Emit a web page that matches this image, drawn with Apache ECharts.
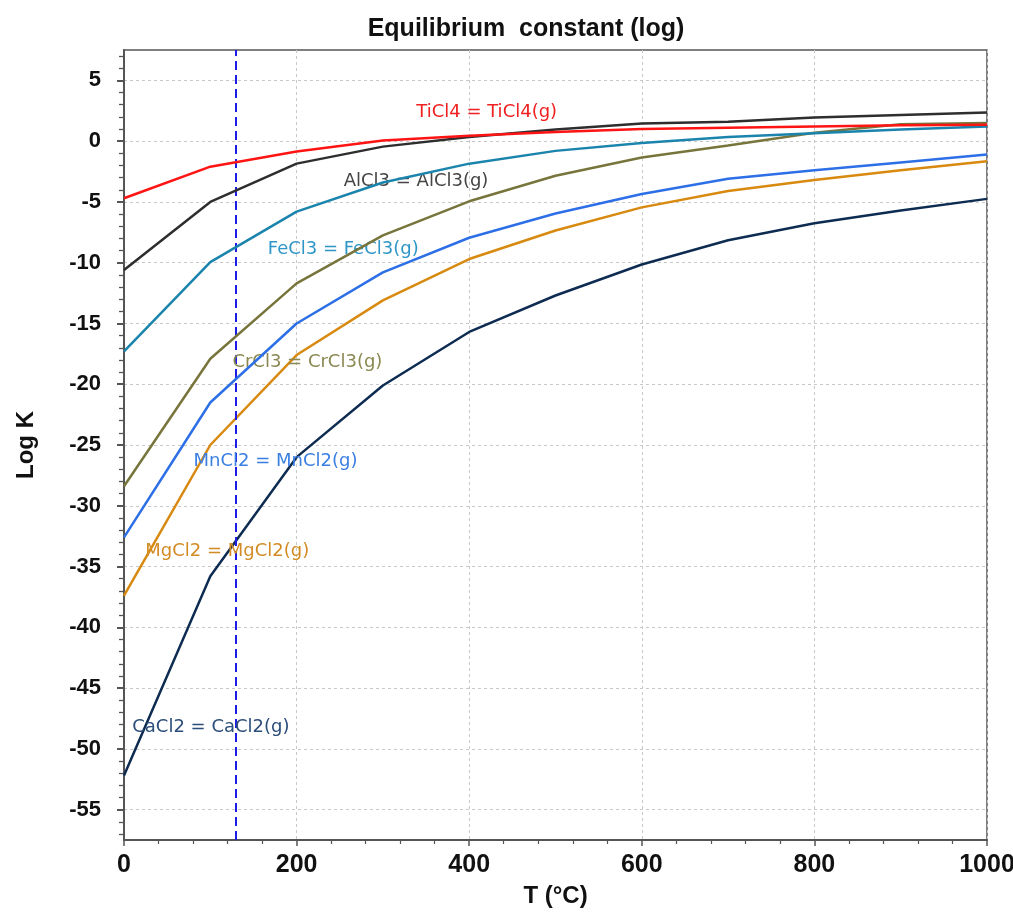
<!DOCTYPE html>
<html><head><meta charset="utf-8">
<script src="https://cdn.jsdelivr.net/npm/echarts@6/dist/echarts.min.js"></script>
<style>html,body{margin:0;padding:0;background:#fff}#c{width:1013px;height:913px}</style>
</head><body><div id="c"></div>
<script>
// ---- data ----
const temperatures = [0, 100, 200, 300, 400, 500, 600, 700, 800, 900, 1000];
const ticl4 = [-4.7, -2.1, -0.85, 0.05, 0.45, 0.75, 1.0, 1.1, 1.2, 1.3, 1.35];
const alcl3 = [-10.6, -5.0, -1.85, -0.45, 0.35, 0.95, 1.45, 1.6, 1.95, 2.15, 2.35];
const fecl3 = [-17.3, -9.95, -5.8, -3.4, -1.85, -0.8, -0.15, 0.35, 0.65, 0.95, 1.2];
const crcl3 = [-28.4, -17.9, -11.7, -7.75, -4.95, -2.85, -1.35, -0.35, 0.7, 1.4, 1.5];
const mncl2 = [-32.6, -21.5, -15.0, -10.8, -7.95, -5.95, -4.35, -3.1, -2.4, -1.75, -1.1];
const mgcl2 = [-37.4, -25.0, -17.6, -13.1, -9.7, -7.35, -5.45, -4.1, -3.2, -2.4, -1.65];
const cacl2 = [-52.2, -35.8, -26.0, -20.1, -15.7, -12.7, -10.15, -8.15, -6.75, -5.7, -4.75];
const reactionNames = ['TiCl4 = TiCl4(g)', 'AlCl3 = AlCl3(g)', 'FeCl3 = FeCl3(g)', 'CrCl3 = CrCl3(g)',
  'MnCl2 = MnCl2(g)', 'MgCl2 = MgCl2(g)', 'CaCl2 = CaCl2(g)'];
const xTickLabels = [0, 200, 400, 600, 800, 1000];
const yTickLabels = [5, 0, -5, -10, -15, -20, -25, -30, -35, -40, -45, -50, -55];
const markerTemperature = 130;

// ---- layout / styles ----
const Y_MIN = -57.5, Y_MAX = 7.5;
const ySteps = [];
for (let k = 0; k <= (Y_MAX - Y_MIN) * 2; k++) ySteps.push(String(Y_MIN + k * 0.5));
const isMajorY = (i, v) => yTickLabels.indexOf(Number(v)) >= 0;
const isMinorY = (i, v) => Number(v) % 1 === 0 && !isMajorY(i, v);

const seriesDefs = [
  { vals: cacl2, color: '#0e2c52', lab: '#2b4d7a', at: [9, -48.2] },
  { vals: mgcl2, color: '#d8890f', lab: '#d38c25', at: [24, -33.75] },
  { vals: mncl2, color: '#2d6fe6', lab: '#3b7fe2', at: [80, -26.35] },
  { vals: crcl3, color: '#77753c', lab: '#8a8852', at: [125, -18.2] },
  { vals: fecl3, color: '#1b84ad', lab: '#3096c8', at: [166, -8.9] },
  { vals: alcl3, color: '#2e2e2e', lab: '#454545', at: [254, -3.3] },
  { vals: ticl4, color: '#ff1414', lab: '#f02020', at: [338, 2.35] }
];
const nameIdx = [6, 5, 4, 3, 2, 1, 0];

const series = seriesDefs.map((d, k) => ({
  type: 'line',
  name: reactionNames[nameIdx[k]],
  data: temperatures.map((t, i) => [t, d.vals[i]]),
  showSymbol: false, symbol: 'none',
  lineStyle: { color: d.color, width: 2.5 },
  itemStyle: { color: d.color },
  z: 3 + k,
  markPoint: {
    silent: true, symbol: 'circle', symbolSize: 1,
    itemStyle: { color: 'rgba(0,0,0,0)' },
    label: {
      show: true, position: 'right', distance: 0,
      formatter: reactionNames[nameIdx[k]],
      color: d.lab, fontSize: 18, fontFamily: 'DejaVu Sans'
    },
    data: [{ coord: d.at }]
  }
}));
series[0].markLine = {
  silent: true, symbol: ['none', 'none'],
  label: { show: false },
  lineStyle: { color: '#1c1ce6', type: [9, 5], width: 2 },
  data: [{ xAxis: markerTemperature }]
};

const boldFont = { fontFamily: 'Liberation Sans, Arial, sans-serif', fontWeight: 'bold', color: '#111' };

const option = {
  animation: false,
  backgroundColor: '#fff',
  grid: { left: 124, right: 26, top: 50, bottom: 73, show: true, borderColor: '#555', borderWidth: 1.5,
          containLabel: false, outerBoundsMode: 'none' },
  graphic: [{
    type: 'text', x: 526, y: 29,
    style: { text: 'Equilibrium  constant (log)', fontSize: 25, textAlign: 'center',
      textVerticalAlign: 'middle', fill: '#111', fontFamily: boldFont.fontFamily, fontWeight: 'bold' }
  }],
  xAxis: {
    type: 'value', min: 0, max: 1000, interval: 200,
    axisLine: { show: true, onZero: false, lineStyle: { color: '#555', width: 2 } },
    axisTick: { show: true, length: 6, lineStyle: { color: '#555', width: 1.5 } },
    minorTick: { show: true, splitNumber: 5, length: 4, lineStyle: { color: '#555', width: 1.2 } },
    axisLabel: Object.assign({ fontSize: 25, margin: 13,
      formatter: v => (xTickLabels.indexOf(v) >= 0 ? String(v) : '') }, boldFont),
    splitLine: { show: true, lineStyle: { color: '#c8c8c8', type: [3, 3], width: 1 } },
    minorSplitLine: { show: false },
    name: 'T (°C)', nameLocation: 'middle', nameGap: 44,
    nameTextStyle: Object.assign({ fontSize: 24 }, boldFont)
  },
  yAxis: [
    {
      type: 'value', min: Y_MIN, max: Y_MAX,
      axisLine: { show: true, onZero: false, lineStyle: { color: '#555', width: 2 } },
      axisTick: { show: false }, axisLabel: { show: false }, splitLine: { show: false },
      name: 'Log K', nameLocation: 'middle', nameGap: 86,
      nameTextStyle: Object.assign({ fontSize: 24 }, boldFont)
    },
    {
      type: 'category', data: ySteps, boundaryGap: false, position: 'left',
      axisLine: { show: false, onZero: false },
      axisTick: { show: true, interval: isMinorY, length: 5, lineStyle: { color: '#555', width: 1.3 } },
      axisLabel: { show: false }, splitLine: { show: false }
    },
    {
      type: 'category', data: ySteps, boundaryGap: false, position: 'left',
      axisLine: { show: false, onZero: false },
      axisTick: { show: true, interval: isMajorY, length: 7, lineStyle: { color: '#555', width: 2 } },
      axisLabel: Object.assign({ show: true, interval: isMajorY, fontSize: 22, margin: 23 }, boldFont),
      splitLine: { show: true, interval: isMajorY, lineStyle: { color: '#c8c8c8', type: [3, 3], width: 1 } }
    }
  ],
  series: series
};
const chart = echarts.init(document.getElementById('c'), null, { renderer: 'canvas' });
chart.setOption(option);
</script></body></html>
